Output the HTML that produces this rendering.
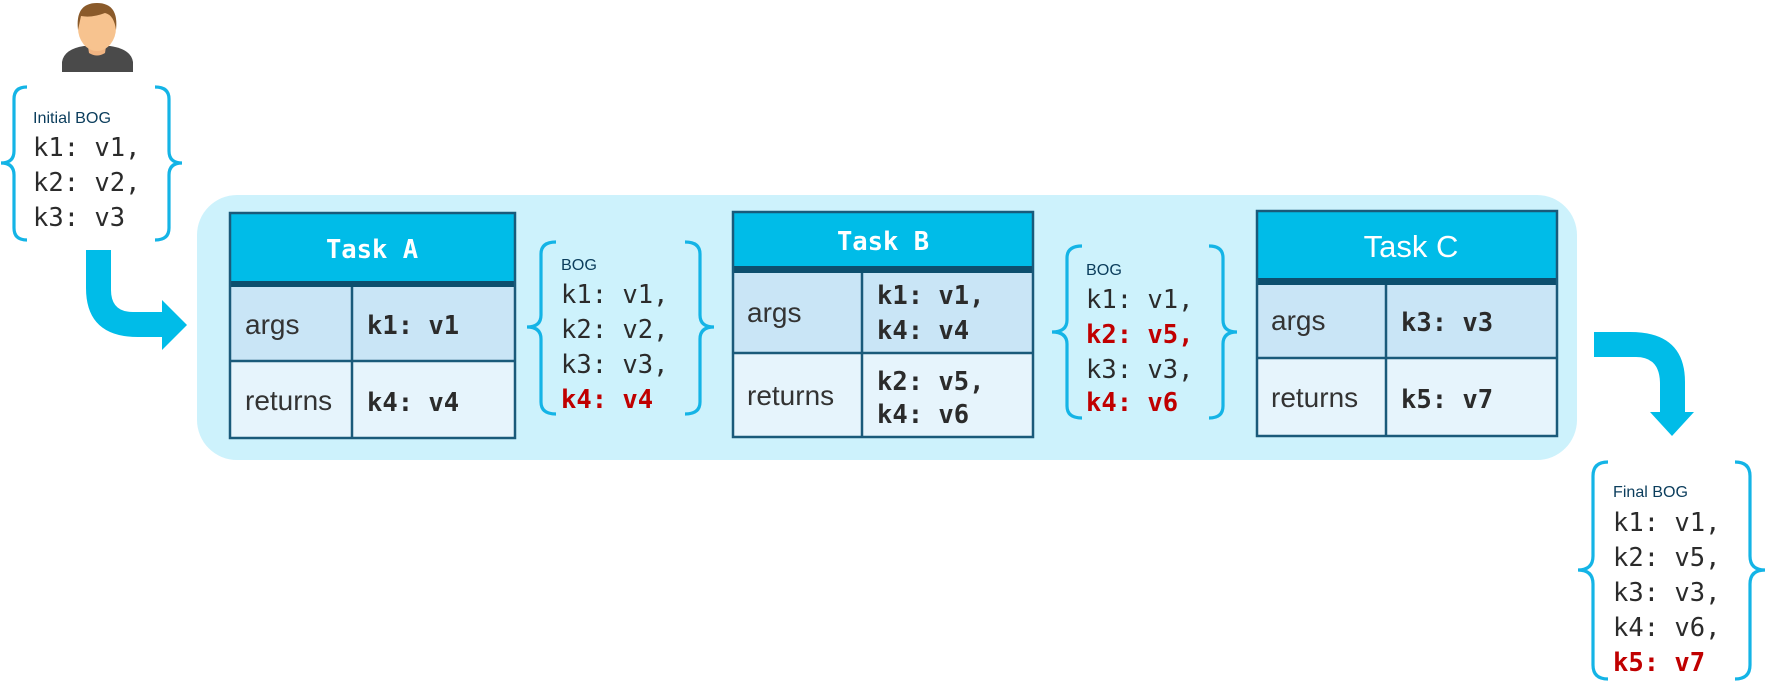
<!DOCTYPE html>
<html><head><meta charset="utf-8"><style>
html,body{margin:0;padding:0;background:#fff;}
svg{display:block;}
.m{font-family:"DejaVu Sans Mono","Liberation Mono",monospace;font-size:25.5px;fill:#2b2b2b;white-space:pre;}
.b{font-weight:bold;}
.r{fill:#c00000;}
.s{font-family:"Liberation Sans",sans-serif;fill:#333;font-size:28px;}
.lbl{font-family:"Liberation Sans",sans-serif;fill:#0b3d5c;font-size:16px;}
.br{fill:none;stroke:#14b4e6;stroke-width:3.2;}
.hd{fill:#00bce8;}
.band{fill:#0d4f6e;}
.ar{fill:#c9e5f6;}
.rt{fill:#e6f4fc;}
.ln{stroke:#1a5a7a;stroke-width:2.5;fill:none;}
</style></head><body>
<svg width="1766" height="693" viewBox="0 0 1766 693" xmlns="http://www.w3.org/2000/svg">
  <g>
    <path d="M62,72 L62,62 Q64,49 84,46 L110,46 Q131,49 133,62 L133,72 Z" fill="#4a4a4a"/>
    <path d="M87,40 L107,40 L105,53 Q97,58 89,53 Z" fill="#f0b482"/>
    <ellipse cx="97" cy="28" rx="19" ry="23" fill="#f7c38f"/>
    <path d="M78,30 Q75,3 97,3 Q119,3 116,30 Q114,15 105,13 Q92,18 81,16 Z" fill="#8a5a2a"/>
  </g>

  <g>
    <path class="br" d="M27,87 Q14,87 14,99 L14,151 Q14,163 1,163 Q14,163 14,175 L14,228 Q14,240 27,240"/>
    <path class="br" d="M155,87 Q169,87 169,99 L169,151 Q169,163 182,163 Q169,163 169,175 L169,228 Q169,240 155,240"/>
    <text class="lbl" x="33" y="123" textLength="78" lengthAdjust="spacingAndGlyphs">Initial BOG</text>
    <text class="m" x="33" y="156">k1: v1,</text>
    <text class="m" x="33" y="191">k2: v2,</text>
    <text class="m" x="33" y="226">k3: v3</text>
  </g>

  <path fill="#00bce8" d="M86,250 L111,250 L111,290 Q111,312 133,312 L162,312 L162,300 L187,325 L162,350 L162,337 L138,337 Q86,337 86,288 Z"/>

  <rect x="197" y="195" width="1380" height="265" rx="40" fill="#cdf2fc"/>

  <g>
    <rect class="hd" x="230" y="213" width="285" height="68"/>
    <rect class="band" x="230" y="281" width="285" height="6"/>
    <rect class="ar" x="230" y="287" width="285" height="74"/>
    <rect class="rt" x="230" y="361" width="285" height="77"/>
    <rect class="ln" x="230" y="213" width="285" height="225"/>
    <line class="ln" x1="230" y1="361" x2="515" y2="361"/>
    <line class="ln" x1="352" y1="287" x2="352" y2="438"/>
    <text class="m b" x="372" y="258" text-anchor="middle" style="fill:#fff">Task A</text>
    <text class="s" x="245" y="334">args</text>
    <text class="s" x="245" y="410">returns</text>
    <text class="m b" x="367" y="334">k1: v1</text>
    <text class="m b" x="367" y="411">k4: v4</text>
  </g>

  <g>
    <path class="br" d="M556,242 Q541,242 541,254 L541,315 Q541,327 527,327 Q541,327 541,339 L541,402 Q541,414 556,414"/>
    <path class="br" d="M685,242 Q700,242 700,254 L700,315 Q700,327 714,327 Q700,327 700,339 L700,402 Q700,414 685,414"/>
    <text class="lbl" x="561" y="270" textLength="36" lengthAdjust="spacingAndGlyphs">BOG</text>
    <text class="m" x="561" y="303">k1: v1,</text>
    <text class="m" x="561" y="338">k2: v2,</text>
    <text class="m" x="561" y="373">k3: v3,</text>
    <text class="m b r" x="561" y="408">k4: v4</text>
  </g>

  <g>
    <rect class="hd" x="733" y="212" width="300" height="54"/>
    <rect class="band" x="733" y="266" width="300" height="7"/>
    <rect class="ar" x="733" y="273" width="300" height="80"/>
    <rect class="rt" x="733" y="353" width="300" height="84"/>
    <rect class="ln" x="733" y="212" width="300" height="225"/>
    <line class="ln" x1="733" y1="353" x2="1033" y2="353"/>
    <line class="ln" x1="862" y1="273" x2="862" y2="437"/>
    <text class="m b" x="883" y="250" text-anchor="middle" style="fill:#fff">Task B</text>
    <text class="s" x="747" y="322">args</text>
    <text class="s" x="747" y="405">returns</text>
    <text class="m b" x="877" y="304">k1: v1,</text>
    <text class="m b" x="877" y="339">k4: v4</text>
    <text class="m b" x="877" y="390">k2: v5,</text>
    <text class="m b" x="877" y="423">k4: v6</text>
  </g>

  <g>
    <path class="br" d="M1082,246 Q1067,246 1067,258 L1067,320 Q1067,332 1052,332 Q1067,332 1067,344 L1067,406 Q1067,418 1082,418"/>
    <path class="br" d="M1209,246 Q1223,246 1223,258 L1223,320 Q1223,332 1237,332 Q1223,332 1223,344 L1223,406 Q1223,418 1209,418"/>
    <text class="lbl" x="1086" y="275" textLength="36" lengthAdjust="spacingAndGlyphs">BOG</text>
    <text class="m" x="1086" y="308">k1: v1,</text>
    <text class="m b r" x="1086" y="343">k2: v5,</text>
    <text class="m" x="1086" y="378">k3: v3,</text>
    <text class="m b r" x="1086" y="411">k4: v6</text>
  </g>

  <g>
    <rect class="hd" x="1257" y="211" width="300" height="67"/>
    <rect class="band" x="1257" y="278" width="300" height="7"/>
    <rect class="ar" x="1257" y="285" width="300" height="73"/>
    <rect class="rt" x="1257" y="358" width="300" height="78"/>
    <rect class="ln" x="1257" y="211" width="300" height="225"/>
    <line class="ln" x1="1257" y1="358" x2="1557" y2="358"/>
    <line class="ln" x1="1386" y1="285" x2="1386" y2="436"/>
    <text class="s" x="1411" y="257" text-anchor="middle" style="fill:#fff;font-size:31px">Task C</text>
    <text class="s" x="1271" y="330">args</text>
    <text class="s" x="1271" y="407">returns</text>
    <text class="m b" x="1401" y="331">k3: v3</text>
    <text class="m b" x="1401" y="408">k5: v7</text>
  </g>

  <path fill="#00bce8" d="M1594,332 L1630,332 Q1685,332 1685,382 L1685,412 L1694,412 L1672,436 L1650,412 L1660,412 L1660,384 Q1660,357 1636,357 L1594,357 Z"/>

  <g>
    <path class="br" d="M1608,462 Q1593,462 1593,476 L1593,556 Q1593,570 1578,570 Q1593,570 1593,584 L1593,665 Q1593,679 1608,679"/>
    <path class="br" d="M1735,462 Q1750,462 1750,476 L1750,556 Q1750,570 1765,570 Q1750,570 1750,584 L1750,665 Q1750,679 1735,679"/>
    <text class="lbl" x="1613" y="497" textLength="75" lengthAdjust="spacingAndGlyphs">Final BOG</text>
    <text class="m" x="1613" y="531">k1: v1,</text>
    <text class="m" x="1613" y="566">k2: v5,</text>
    <text class="m" x="1613" y="601">k3: v3,</text>
    <text class="m" x="1613" y="636">k4: v6,</text>
    <text class="m b r" x="1613" y="671">k5: v7</text>
  </g>
</svg>
</body></html>
